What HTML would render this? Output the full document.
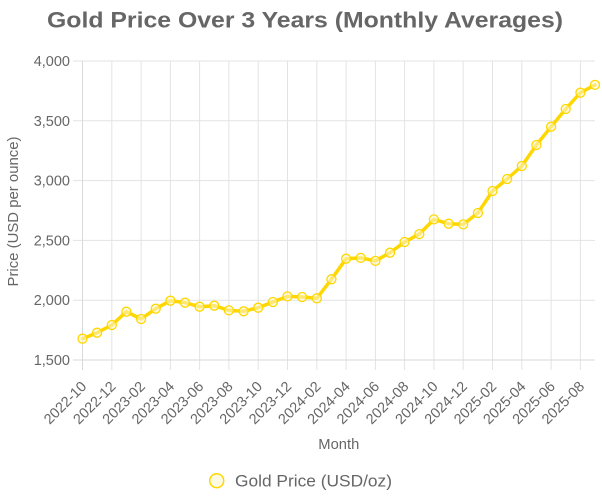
<!DOCTYPE html>
<html>
<head>
<meta charset="utf-8">
<style>
  html, body { margin: 0; padding: 0; background: #ffffff; }
  svg { display: block; }
  text { font-family: "Liberation Sans", Arial, sans-serif; fill: #666666; }
</style>
</head>
<body>
<svg width="602" height="503" viewBox="0 0 602 503" xmlns="http://www.w3.org/2000/svg">
  <!-- Title -->
  <text x="305" y="27.5" text-anchor="middle" font-size="22" font-weight="bold" textLength="516" lengthAdjust="spacingAndGlyphs">Gold Price Over 3 Years (Monthly Averages)</text>

  <!-- Horizontal grid lines -->
  <g stroke="#e3e3e3" stroke-width="1">
    <line x1="73" y1="61" x2="595" y2="61"/>
    <line x1="73" y1="120.8" x2="595" y2="120.8"/>
    <line x1="73" y1="180.6" x2="595" y2="180.6"/>
    <line x1="73" y1="240.4" x2="595" y2="240.4"/>
    <line x1="73" y1="300.2" x2="595" y2="300.2"/>
  </g>
  <!-- Vertical grid lines (every 2 months) -->
  <g stroke="#e3e3e3" stroke-width="1">
    <line x1="111.8" y1="61" x2="111.8" y2="370"/>
    <line x1="141.1" y1="61" x2="141.1" y2="370"/>
    <line x1="170.4" y1="61" x2="170.4" y2="370"/>
    <line x1="199.6" y1="61" x2="199.6" y2="370"/>
    <line x1="228.9" y1="61" x2="228.9" y2="370"/>
    <line x1="258.2" y1="61" x2="258.2" y2="370"/>
    <line x1="287.5" y1="61" x2="287.5" y2="370"/>
    <line x1="316.8" y1="61" x2="316.8" y2="370"/>
    <line x1="346.1" y1="61" x2="346.1" y2="370"/>
    <line x1="375.4" y1="61" x2="375.4" y2="370"/>
    <line x1="404.6" y1="61" x2="404.6" y2="370"/>
    <line x1="433.9" y1="61" x2="433.9" y2="370"/>
    <line x1="463.2" y1="61" x2="463.2" y2="370"/>
    <line x1="492.5" y1="61" x2="492.5" y2="370"/>
    <line x1="521.8" y1="61" x2="521.8" y2="370"/>
    <line x1="551.1" y1="61" x2="551.1" y2="370"/>
    <line x1="580.4" y1="61" x2="580.4" y2="370"/>
  </g>
  <!-- Axes -->
  <g stroke="#d9d9d9" stroke-width="1">
    <line x1="82.5" y1="61" x2="82.5" y2="370"/>
    <line x1="73" y1="360" x2="595" y2="360"/>
  </g>

  <!-- Y tick labels -->
  <g font-size="14.5" text-anchor="end">
    <text x="70" y="66">4,000</text>
    <text x="70" y="125.8">3,500</text>
    <text x="70" y="185.6">3,000</text>
    <text x="70" y="245.4">2,500</text>
    <text x="70" y="305.2">2,000</text>
    <text x="70" y="365">1,500</text>
  </g>

  <!-- Y axis title -->
  <text transform="translate(18,211.5) rotate(-90)" text-anchor="middle" font-size="15" textLength="150" lengthAdjust="spacingAndGlyphs">Price (USD per ounce)</text>

  <!-- X tick labels -->
  <g font-size="14.5" text-anchor="end" dominant-baseline="central">
    <text transform="translate(84.5,384.5) rotate(-45)">2022-10</text>
    <text transform="translate(113.8,384.5) rotate(-45)">2022-12</text>
    <text transform="translate(143.1,384.5) rotate(-45)">2023-02</text>
    <text transform="translate(172.4,384.5) rotate(-45)">2023-04</text>
    <text transform="translate(201.6,384.5) rotate(-45)">2023-06</text>
    <text transform="translate(230.9,384.5) rotate(-45)">2023-08</text>
    <text transform="translate(260.2,384.5) rotate(-45)">2023-10</text>
    <text transform="translate(289.5,384.5) rotate(-45)">2023-12</text>
    <text transform="translate(318.8,384.5) rotate(-45)">2024-02</text>
    <text transform="translate(348.1,384.5) rotate(-45)">2024-04</text>
    <text transform="translate(377.4,384.5) rotate(-45)">2024-06</text>
    <text transform="translate(406.6,384.5) rotate(-45)">2024-08</text>
    <text transform="translate(435.9,384.5) rotate(-45)">2024-10</text>
    <text transform="translate(465.2,384.5) rotate(-45)">2024-12</text>
    <text transform="translate(494.5,384.5) rotate(-45)">2025-02</text>
    <text transform="translate(523.8,384.5) rotate(-45)">2025-04</text>
    <text transform="translate(553.1,384.5) rotate(-45)">2025-06</text>
    <text transform="translate(582.4,384.5) rotate(-45)">2025-08</text>
  </g>

  <!-- X axis title -->
  <text x="338.8" y="449" text-anchor="middle" font-size="15" textLength="41" lengthAdjust="spacingAndGlyphs">Month</text>

  <!-- Data line -->
  <polyline fill="none" stroke="#FFD700" stroke-width="3.5" stroke-linejoin="round" stroke-linecap="round"
    points="82.5,338.7 97.1,332.7 111.8,325.0 126.4,311.7 141.1,319.0 155.7,308.7 170.4,300.7 185.0,302.7 199.6,306.7 214.3,305.7 228.9,310.4 243.6,311.3 258.2,307.7 272.9,302.0 287.5,296.4 302.1,297.0 316.8,298.3 331.4,279.3 346.1,258.7 360.7,257.9 375.4,260.9 390.0,252.7 404.6,242.0 419.3,234.1 433.9,219.4 448.6,223.7 463.2,224.4 477.9,213.0 492.5,191.0 507.1,179.0 521.8,166.0 536.4,145.0 551.1,126.7 565.7,109.0 580.4,92.7 595.0,84.9"/>

  <!-- Points -->
  <g fill="rgba(255,248,210,0.55)" stroke="#FFD700" stroke-width="1.3">
    <circle cx="82.5" cy="338.7" r="4.5"/>
    <circle cx="97.1" cy="332.7" r="4.5"/>
    <circle cx="111.8" cy="325.0" r="4.5"/>
    <circle cx="126.4" cy="311.7" r="4.5"/>
    <circle cx="141.1" cy="319.0" r="4.5"/>
    <circle cx="155.7" cy="308.7" r="4.5"/>
    <circle cx="170.4" cy="300.7" r="4.5"/>
    <circle cx="185.0" cy="302.7" r="4.5"/>
    <circle cx="199.6" cy="306.7" r="4.5"/>
    <circle cx="214.3" cy="305.7" r="4.5"/>
    <circle cx="228.9" cy="310.4" r="4.5"/>
    <circle cx="243.6" cy="311.3" r="4.5"/>
    <circle cx="258.2" cy="307.7" r="4.5"/>
    <circle cx="272.9" cy="302.0" r="4.5"/>
    <circle cx="287.5" cy="296.4" r="4.5"/>
    <circle cx="302.1" cy="297.0" r="4.5"/>
    <circle cx="316.8" cy="298.3" r="4.5"/>
    <circle cx="331.4" cy="279.3" r="4.5"/>
    <circle cx="346.1" cy="258.7" r="4.5"/>
    <circle cx="360.7" cy="257.9" r="4.5"/>
    <circle cx="375.4" cy="260.9" r="4.5"/>
    <circle cx="390.0" cy="252.7" r="4.5"/>
    <circle cx="404.6" cy="242.0" r="4.5"/>
    <circle cx="419.3" cy="234.1" r="4.5"/>
    <circle cx="433.9" cy="219.4" r="4.5"/>
    <circle cx="448.6" cy="223.7" r="4.5"/>
    <circle cx="463.2" cy="224.4" r="4.5"/>
    <circle cx="477.9" cy="213.0" r="4.5"/>
    <circle cx="492.5" cy="191.0" r="4.5"/>
    <circle cx="507.1" cy="179.0" r="4.5"/>
    <circle cx="521.8" cy="166.0" r="4.5"/>
    <circle cx="536.4" cy="145.0" r="4.5"/>
    <circle cx="551.1" cy="126.7" r="4.5"/>
    <circle cx="565.7" cy="109.0" r="4.5"/>
    <circle cx="580.4" cy="92.7" r="4.5"/>
    <circle cx="595.0" cy="84.9" r="4.5"/>
  </g>

  <!-- Legend -->
  <circle cx="216.7" cy="480.7" r="7" fill="#fffbe3" stroke="#FFD700" stroke-width="1.5"/>
  <text x="235" y="486.5" font-size="17" textLength="157" lengthAdjust="spacingAndGlyphs">Gold Price (USD/oz)</text>
</svg>
</body>
</html>
